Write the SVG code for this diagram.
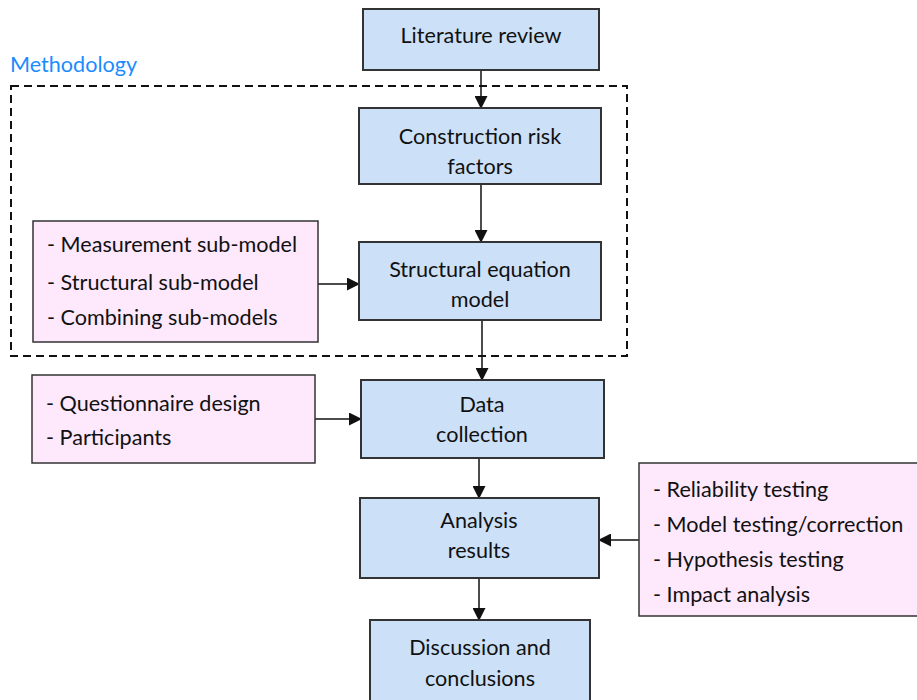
<svg xmlns="http://www.w3.org/2000/svg" width="917" height="700" viewBox="0 0 917 700">
<defs>
<marker id="ah" markerWidth="13" markerHeight="13" refX="12" refY="6.5" orient="auto" markerUnits="userSpaceOnUse">
<path d="M0,0 L13,6.5 L0,13 Z" fill="#111"/>
</marker>
<style>
.blue{fill:#cce0f8;stroke:#333;stroke-width:2}
.pink{fill:#fde8fc;stroke:#333;stroke-width:1.5}
.t{font-family:Lato,"Open Sans",sans-serif;font-size:21.6px;fill:#111}
.c{text-anchor:middle}
.con{stroke:#111;stroke-width:1.5;fill:none;marker-end:url(#ah)}
</style>
</defs>
<rect width="917" height="700" fill="#fff"/>
<g id="methodology">
<rect x="11" y="86" width="616" height="270" fill="none" stroke="#111" stroke-width="2" stroke-dasharray="8,5"/>
<text x="10" y="72" font-family="Lato,'Open Sans',sans-serif" font-size="21.6" fill="#1a8cff">Methodology</text>
</g>
<g id="connectors">
<line class="con" x1="481" y1="70" x2="481" y2="108"/>
<line class="con" x1="481" y1="184" x2="481" y2="242"/>
<line class="con" x1="318" y1="284" x2="359" y2="284"/>
<line class="con" x1="482" y1="320" x2="482" y2="380"/>
<line class="con" x1="315" y1="419" x2="361" y2="419"/>
<line class="con" x1="479" y1="458" x2="479" y2="498"/>
<line class="con" x1="639" y1="540" x2="599" y2="540"/>
<line class="con" x1="479" y1="578" x2="479" y2="620"/>
</g>
<g id="lit">
<rect class="blue" x="363" y="9" width="236" height="61"/>
<text class="t c" x="481" y="43">Literature review</text>
</g>
<g id="crf">
<rect class="blue" x="359" y="108" width="242" height="76"/>
<text class="t c" x="480" y="144">Construction risk</text>
<text class="t c" x="480" y="174">factors</text>
</g>
<g id="sem">
<rect class="blue" x="359" y="242" width="242" height="78"/>
<text class="t c" x="480" y="277">Structural equation</text>
<text class="t c" x="480" y="307">model</text>
</g>
<g id="submodels">
<rect class="pink" x="33" y="221" width="285" height="121"/>
<text class="t" x="47" y="252">- Measurement sub-model</text>
<text class="t" x="47" y="290">- Structural sub-model</text>
<text class="t" x="47" y="325">- Combining sub-models</text>
</g>
<g id="dc">
<rect class="blue" x="361" y="380" width="243" height="78"/>
<text class="t c" x="482" y="412">Data</text>
<text class="t c" x="482" y="442">collection</text>
</g>
<g id="quest">
<rect class="pink" x="32" y="375" width="283" height="88"/>
<text class="t" x="46" y="411">- Questionnaire design</text>
<text class="t" x="46" y="445">- Participants</text>
</g>
<g id="ar">
<rect class="blue" x="360" y="498" width="239" height="80"/>
<text class="t c" x="479" y="528">Analysis</text>
<text class="t c" x="479" y="558">results</text>
</g>
<g id="tests">
<rect class="pink" x="639" y="463" width="285" height="153"/>
<text class="t" x="653" y="497">- Reliability testing</text>
<text class="t" x="653" y="532">- Model testing/correction</text>
<text class="t" x="653" y="567">- Hypothesis testing</text>
<text class="t" x="653" y="602">- Impact analysis</text>
</g>
<g id="disc">
<rect class="blue" x="370" y="620" width="220" height="90"/>
<text class="t c" x="480" y="655">Discussion and</text>
<text class="t c" x="480" y="686">conclusions</text>
</g>
</svg>
